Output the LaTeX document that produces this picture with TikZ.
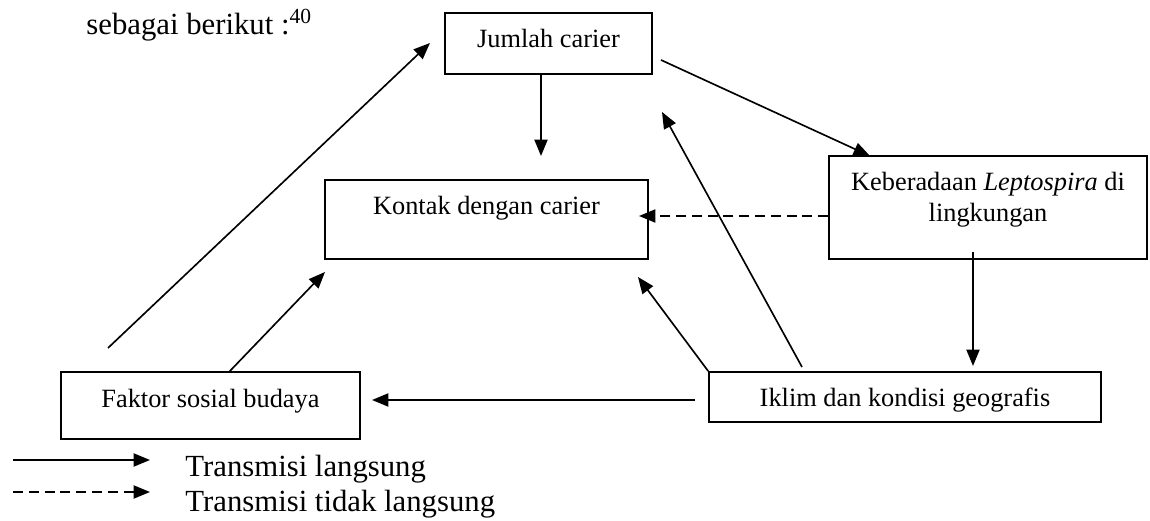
\documentclass[tikz,border=0pt]{standalone}
\usepackage{fontspec}
\setmainfont{Liberation Serif}
\usetikzlibrary{arrows.meta}

\begin{document}
\begin{tikzpicture}[x=0.016cm,y=-0.016cm,
  kotak/.style={draw, line width=0.8pt, inner sep=0pt, font=\fontsize{12}{14.5}\selectfont},
  panah/.style={line width=0.75pt, -{Triangle[length=7.5pt,width=6pt]}},
  putus/.style={panah, dash pattern=on 4.5pt off 2.7pt},
  besar/.style={anchor=base west, inner sep=0pt, font=\fontsize{14}{17}\selectfont}]

\useasboundingbox (0,0) rectangle (1150,521);

\node[besar] (judul) at (86,35) {sebagai berikut :\textsuperscript{40}};

% Kotak-kotak
\node[kotak, minimum width=3.312cm, text height=0.56cm, text depth=0.416cm] (jumlah) at (548.5,43.5) {Jumlah carier};
\node[kotak, minimum width=5.168cm, text height=0.56cm, text depth=0.704cm] (kontak) at (486.5,219.5) {Kontak dengan carier};
\node[kotak, align=center, minimum width=5.088cm, text height=1.056cm, text depth=0.592cm] (lepto) at (988,207.5) {Keberadaan \textit{Leptospira} di\\lingkungan};
\node[kotak, minimum width=6.272cm, text height=0.56cm, text depth=0.24cm] (iklim) at (905,397) {Iklim dan kondisi geografis};
\node[kotak, minimum width=4.784cm, text height=0.576cm, text depth=0.496cm] (faktor) at (210.5,405.5) {Faktor sosial budaya};

% Ujung panah yang bebas
\coordinate (kontakAtas) at (541,156);
\coordinate (jumlahKanan) at (661,60);
\coordinate (leptoAtas) at (870,156);
\coordinate (kontakKanan) at (639,216);
\coordinate (leptoBawah) at (973,252);
\coordinate (iklimAtas) at (973,366);
\coordinate (kontakSudut) at (638,277);
\coordinate (iklimKiri) at (802,367);
\coordinate (jumlahBawah) at (662,112);
\coordinate (faktorAtas) at (229,372);
\coordinate (kontakKiri) at (325,272);
\coordinate (faktorJauh) at (108,348);
\coordinate (jumlahKiri) at (430,43);
\coordinate (iklimSisi) at (695,400);
\coordinate (faktorKanan) at (372,400);

% Transmisi langsung
\draw[panah] (jumlah.south -| kontakAtas) -- (kontakAtas);
\draw[panah] (jumlahKanan) -- (leptoAtas);
\draw[panah] (leptoBawah) -- (iklimAtas);
\draw[panah] (iklim.north west) -- (kontakSudut);
\draw[panah] (iklimKiri) -- (jumlahBawah);
\draw[panah] (faktorAtas) -- (kontakKiri);
\draw[panah] (faktorJauh) -- (jumlahKiri);
\draw[panah] (iklimSisi) -- (faktorKanan);

% Transmisi tidak langsung
\draw[putus] (lepto.west |- kontakKanan) -- (kontakKanan);

% Keterangan
\coordinate (ketA) at (13,460);
\coordinate (ketB) at (150,460);
\coordinate (ketC) at (13,492);
\coordinate (ketD) at (150,492);
\draw[panah] (ketA) -- (ketB);
\draw[putus] (ketC) -- (ketD);
\node[besar] (langsung) at (185,477) {Transmisi langsung};
\node[besar] (tidak) at (185,512) {Transmisi tidak langsung};

\end{tikzpicture}
\end{document}
